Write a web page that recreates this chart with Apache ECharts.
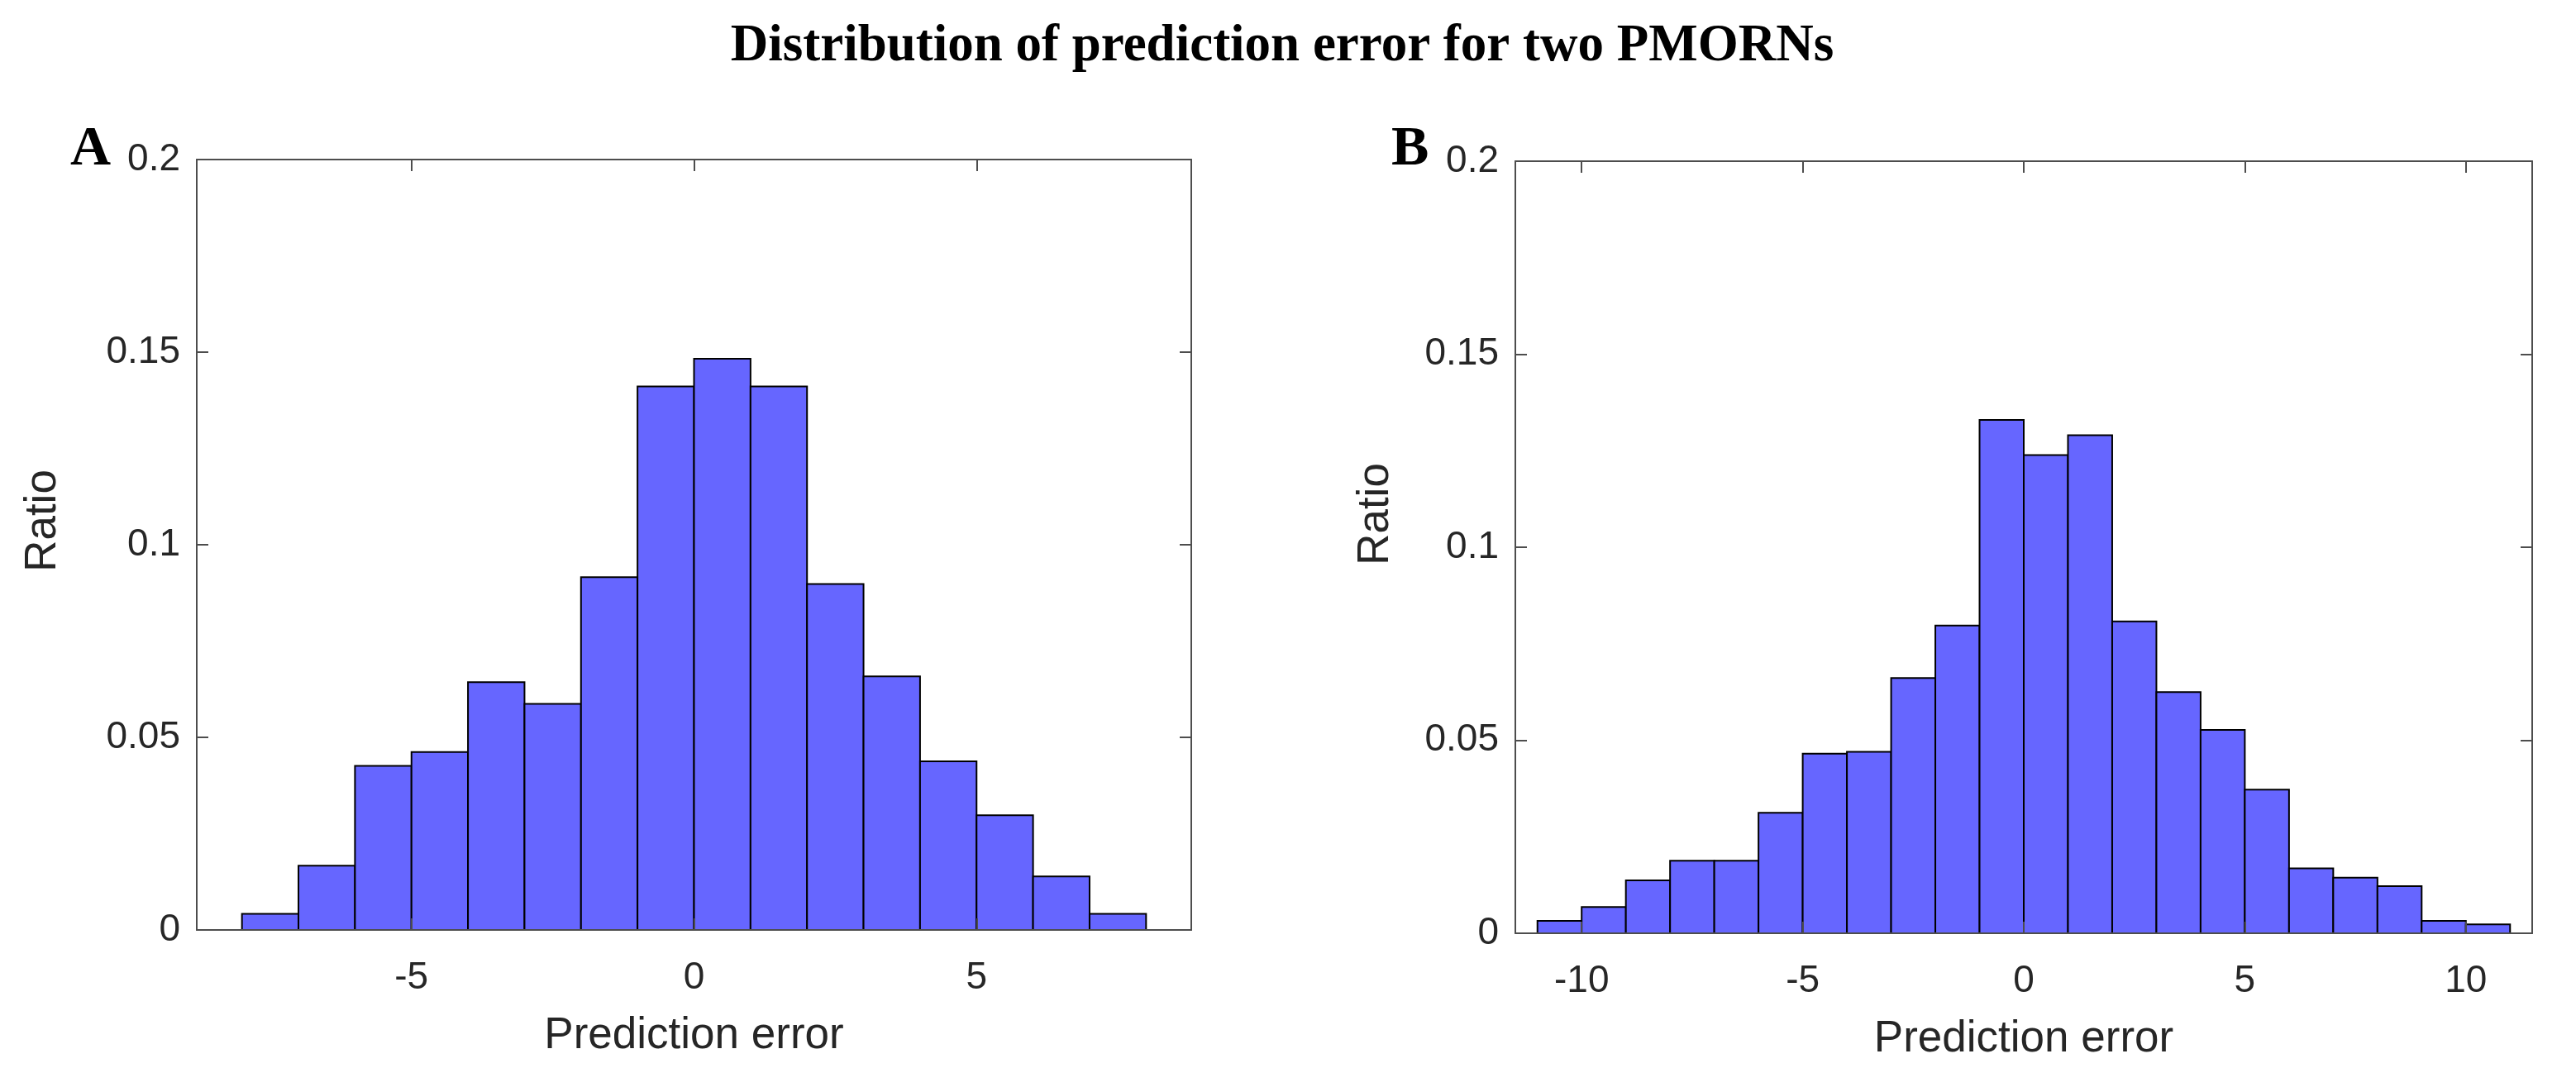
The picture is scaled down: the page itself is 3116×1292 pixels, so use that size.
<!DOCTYPE html>
<html><head><meta charset="utf-8">
<script src="https://cdn.jsdelivr.net/npm/echarts@6/dist/echarts.min.js"></script>
<style>html,body{margin:0;padding:0;background:#fff}#c{width:3116px;height:1292px}</style>
</head><body><div id="c"></div>
<script>
const titleText = 'Distribution of prediction error for two PMORNs';
const panelLabels = ['A', 'B'];
const xAxisTitle = 'Prediction error';
const yAxisTitle = 'Ratio';

// Panel A: histogram bins (left edges) and ratio per bin, bin width 1
const binStartA = [-8, -7, -6, -5, -4, -3, -2, -1, 0, 1, 2, 3, 4, 5, 6, 7];
const ratioA = [0.0042, 0.0167, 0.0426, 0.0462, 0.0643, 0.0587, 0.0916, 0.1411,
                0.1483, 0.1411, 0.0898, 0.0658, 0.0438, 0.0298, 0.0139, 0.0042];

// Panel B
const binStartB = [-11, -10, -9, -8, -7, -6, -5, -4, -3, -2, -1, 0, 1, 2, 3, 4, 5, 6, 7, 8, 9, 10];
const ratioB = [0.0032, 0.0068, 0.0137, 0.0188, 0.0188, 0.0312, 0.0465, 0.0470, 0.0661, 0.0797, 0.1330,
                0.1239, 0.1290, 0.0808, 0.0625, 0.0527, 0.0372, 0.0168, 0.0144, 0.0122, 0.0032, 0.0023];
const binWidth = 1;

const xTicksA = [-5, 0, 5];
const xTicksB = [-10, -5, 0, 5, 10];
const xLimA = [-8.8, 8.8];
const xLimB = [-11.5, 11.5];
const yMin = 0, yMax = 0.2, yStep = 0.05;

const SANS = '"Liberation Sans", Arial, sans-serif';
const SERIF = '"Liberation Serif", "Times New Roman", serif';
const AXC = '#4d4d4d';
const TXT = '#262626';

const grids = [
  { left: 238, top: 193, width: 1203, height: 932 },
  { left: 1833, top: 195, width: 1230, height: 934 }
];

function xAxes(gi, lim, ticks) {
  return [
    {
      gridIndex: gi, type: 'value', position: 'bottom', min: lim[0], max: lim[1],
      axisLine: { show: true, onZero: false, lineStyle: { color: AXC, width: 2 } },
      axisTick: { show: true, inside: true, length: 14, customValues: ticks, lineStyle: { color: AXC, width: 2 } },
      axisLabel: { show: true, customValues: ticks, margin: 35, fontSize: 46, fontFamily: SANS, color: TXT },
      splitLine: { show: false },
      name: xAxisTitle, nameLocation: 'middle', nameGap: 102,
      nameTextStyle: { fontSize: 53, fontFamily: SANS, color: TXT },
      z: 5
    },
    {
      gridIndex: gi, type: 'value', position: 'top', min: lim[0], max: lim[1],
      axisLine: { show: true, onZero: false, lineStyle: { color: AXC, width: 2 } },
      axisTick: { show: true, inside: true, length: 14, customValues: ticks, lineStyle: { color: AXC, width: 2 } },
      axisLabel: { show: false }, splitLine: { show: false }, z: 5
    }
  ];
}
function yAxes(gi) {
  return [
    {
      gridIndex: gi, type: 'value', position: 'left', min: yMin, max: yMax, interval: yStep,
      axisLine: { show: true, onZero: false, lineStyle: { color: AXC, width: 2 } },
      axisTick: { show: true, inside: true, length: 14, lineStyle: { color: AXC, width: 2 } },
      axisLabel: { show: true, margin: 20, fontSize: 46, fontFamily: SANS, color: TXT },
      splitLine: { show: false }, z: 5
    },
    {
      gridIndex: gi, type: 'value', position: 'right', min: yMin, max: yMax, interval: yStep,
      axisLine: { show: true, onZero: false, lineStyle: { color: AXC, width: 2 } },
      axisTick: { show: true, inside: true, length: 14, lineStyle: { color: AXC, width: 2 } },
      axisLabel: { show: false }, splitLine: { show: false }, z: 5
    }
  ];
}

function histSeries(xi, yi, starts, vals) {
  return {
    type: 'custom', xAxisIndex: xi, yAxisIndex: yi,
    data: starts.map((s, i) => [s, s + binWidth, vals[i]]),
    renderItem: function (params, api) {
      const p0 = api.coord([api.value(0), api.value(2)]);
      const p1 = api.coord([api.value(1), 0]);
      return {
        type: 'rect',
        shape: { x: p0[0], y: p0[1], width: p1[0] - p0[0], height: p1[1] - p0[1] },
        style: { fill: '#6666ff', stroke: '#000000', lineWidth: 2 }
      };
    },
    z: 2
  };
}

const chart = echarts.init(document.getElementById('c'), null, { renderer: 'canvas' });
chart.setOption({
  backgroundColor: '#ffffff',
  animation: false,
  grid: grids,
  xAxis: [...xAxes(0, xLimA, xTicksA), ...xAxes(1, xLimB, xTicksB)],
  yAxis: [...yAxes(0), ...yAxes(1)],
  series: [
    histSeries(0, 0, binStartA, ratioA),
    histSeries(2, 2, binStartB, ratioB)
  ],
  graphic: [
    { type: 'text', x: 1551, y: 57, style: { text: titleText, font: 'bold 63px ' + SERIF, fill: '#000', textAlign: 'center', textVerticalAlign: 'middle' } },
    { type: 'text', x: 85, y: 181, style: { text: panelLabels[0], font: 'bold 68px ' + SERIF, fill: '#000', textAlign: 'left', textVerticalAlign: 'middle' } },
    { type: 'text', x: 1683, y: 181, style: { text: panelLabels[1], font: 'bold 68px ' + SERIF, fill: '#000', textAlign: 'left', textVerticalAlign: 'middle' } },
    { type: 'text', x: 52, y: 630, rotation: Math.PI / 2, style: { text: yAxisTitle, font: '53px ' + SANS, fill: TXT, textAlign: 'center', textVerticalAlign: 'middle' } },
    { type: 'text', x: 1664, y: 622, rotation: Math.PI / 2, style: { text: yAxisTitle, font: '53px ' + SANS, fill: TXT, textAlign: 'center', textVerticalAlign: 'middle' } }
  ]
});
</script>
</body></html>
